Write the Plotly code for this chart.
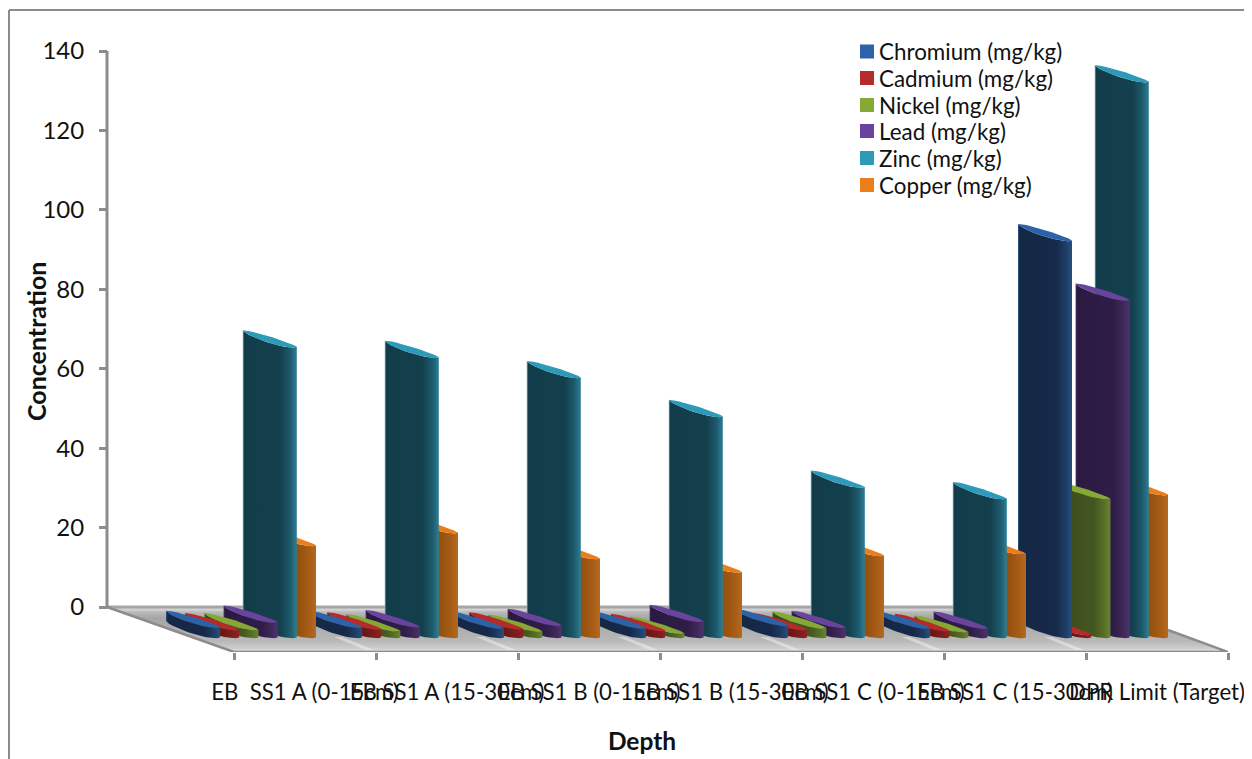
import plotly.graph_objects as go

categories = ["EB  SS1 A (0-15cm)", "EB SS1 A (15-30cm)", "EB SS1 B (0-15cm)", "EB SS1 B (15-30cm)",
              "EB SS1 C (0-15cm)", "EB SS1 C (15-30cm)", "DPR Limit (Target)"]
chromium = [2.6, 2.6, 2.4, 2.4, 3.1, 2.4, 100]
cadmium = [2.0, 2.2, 2.2, 1.8, 2.0, 1.8, 0.8]
nickel = [2.0, 1.7, 1.6, 1.1, 2.4, 1.4, 35]
lead = [3.9, 2.8, 3.1, 4.1, 2.6, 2.4, 85]
zinc = [73.2, 70.6, 65.5, 55.7, 37.9, 35.0, 140]
copper = [23.2, 26.4, 19.9, 16.5, 20.7, 21.1, 36]
y_ticks = [0, 20, 40, 60, 80, 100, 120, 140]

series = [
    ("Chromium (mg/kg)", chromium, "#2b62a8", ["#2f5a8e", "#152844", "#16294a", "#1e3c66", "#27507f"]),
    ("Cadmium (mg/kg)", cadmium, "#b52b2b", ["#7a2020", "#5c1616", "#6a1818", "#7e1d1d", "#8f2222"]),
    ("Nickel (mg/kg)", nickel, "#86a835", ["#5a7028", "#39491a", "#445720", "#566f26", "#678530"]),
    ("Lead (mg/kg)", lead, "#6a449c", ["#4a3468", "#2a1a40", "#2f1d48", "#3e2858", "#4c3270"]),
    ("Zinc (mg/kg)", zinc, "#2c9ab8", ["#6fa5b0", "#123c49", "#14404d", "#1d5a6c", "#2b7f96"]),
    ("Copper (mg/kg)", copper, "#ed7d1a", ["#8a4a12", "#7d420d", "#96520f", "#a85e17", "#b5691f"]),
]

# drawing geometry, in pixels of the page (the page body has an 8px margin)
PAGE_W, PAGE_H = 1252, 759
BODY = 8
L, R, T, B = 56, 1228, 33, 652
Y0_PX = 607.0
PX_PER_UNIT = 3.971
PX_PER_CAT = 142.0
CAT0_PX = 305.0
x_rng = [(L - CAT0_PX) / PX_PER_CAT, (R - CAT0_PX) / PX_PER_CAT]
y_rng = [(Y0_PX - B) / PX_PER_UNIT, (Y0_PX - T) / PX_PER_UNIT]
fx = lambda px: (px - CAT0_PX) / PX_PER_CAT
fy = lambda px: (Y0_PX - px) / PX_PER_UNIT
dx = lambda px: px / PX_PER_CAT
dy = lambda px: px / PX_PER_UNIT

BASE = fy(637.5)
BAR_W = dx(54)
STEP = dx(19.2)
FIRST_RIGHT = fx(220)
SLANT = dy(16.5)
N = 16

AXIS = "#8c8c8c"
fig = go.Figure()

# floor
floor_x = [fx(107), fx(234), fx(1228), fx(1101), fx(107)]
floor_y = [fy(607), fy(652), fy(652), fy(607), fy(607)]
fig.add_trace(go.Scatter(x=floor_x, y=floor_y, mode="lines", fill="toself", line=dict(width=0),
                         fillgradient=dict(type="vertical", colorscale=[
                             [0, "#dcdcdc"], [0.12, "#c8c8c8"], [0.25, "#b8b8b8"], [0.75, "#a6a6a6"],
                             [0.88, "#b8b8b8"], [0.94, "#d4d4d4"], [1, "#c8c8c8"]]),
                         showlegend=False, hoverinfo="skip"))
# light streaks on the floor
for i in range(7):
    sx = 340 + i * 142
    fig.add_trace(go.Scatter(x=[fx(sx - 6), fx(sx + 26), fx(sx + 34), fx(sx + 2), fx(sx - 6)],
                             y=[fy(637), fy(650), fy(650), fy(637), fy(637)],
                             mode="lines", fill="toself", line=dict(width=0),
                             fillcolor="rgba(255,255,255,0.4)", showlegend=False, hoverinfo="skip"))
# floor edges and the value axis
fig.add_trace(go.Scatter(x=[fx(107), fx(1101)], y=[fy(607), fy(607)], mode="lines",
                         line=dict(color="#a6a6a6", width=3), showlegend=False, hoverinfo="skip"))
fig.add_trace(go.Scatter(x=[fx(107), fx(234), fx(1228), fx(1168)], y=[fy(607), fy(652), fy(652), fy(630)],
                         mode="lines", line=dict(color=AXIS, width=2.5), showlegend=False, hoverinfo="skip",
                         cliponaxis=False))
fig.add_trace(go.Scatter(x=[fx(107), fx(107)], y=[0, max(y_ticks)], mode="lines",
                         line=dict(color=AXIS, width=3), showlegend=False, hoverinfo="skip"))


def curve(t, a, b, bow):
    return a + (b - a) * t + bow * (4 * t * (1 - t)) ** 0.6


ts = [k / N for k in range(N + 1)]
for i in range(len(categories) - 1, -1, -1):
    for k in range(len(series) - 1, -1, -1):
        name, vals, top_c, body = series[k]
        xr = i + FIRST_RIGHT + k * STEP
        xl = xr - BAR_W
        yr = BASE + vals[i]
        xs = [xl + (xr - xl) * t for t in ts]
        upper = [curve(t, yr + SLANT, yr, dy(2.0)) for t in ts]
        lower = [curve(t, yr + SLANT, yr, -dy(4.5)) for t in ts]
        bottom = [curve(t, BASE + SLANT, BASE, -dy(4.5)) for t in ts]
        fig.add_trace(go.Scatter(
            x=xs + xs[::-1] + [xs[0]], y=lower + bottom[::-1] + [lower[0]],
            mode="lines", fill="toself", line=dict(width=0),
            fillgradient=dict(type="horizontal", colorscale=[
                [0, body[0]], [0.03, body[1]], [0.7, body[2]], [0.88, body[3]], [1, body[4]]]),
            showlegend=False, hovertemplate=f"{categories[i]}<br>{name}: {vals[i]}<extra></extra>"))
        fig.add_trace(go.Scatter(
            x=xs + xs[::-1] + [xs[0]], y=upper + lower[::-1] + [upper[0]],
            mode="lines", fill="toself", line=dict(width=0), fillcolor=top_c,
            showlegend=False, hoverinfo="skip"))

FONT = "Lato"
px_x = lambda px: (px - L) / (R - L)
px_y = lambda px: (B - px) / (B - T)
shapes = [
    dict(type="line", xref="paper", yref="paper", x0=px_x(9), x1=px_x(1252), y0=px_y(10), y1=px_y(10),
         line=dict(color="#8c8c8c", width=2)),
    dict(type="line", xref="paper", yref="paper", x0=px_x(9), x1=px_x(9), y0=px_y(10), y1=px_y(759),
         line=dict(color="#8c8c8c", width=2)),
    dict(type="line", xref="paper", yref="paper", x0=px_x(1251), x1=px_x(1251), y0=px_y(10), y1=px_y(759),
         line=dict(color="#e8e8e8", width=1)),
]
annotations = []
legend_rows = [51.5, 78, 105, 131, 158, 185]
for (name, vals, top_c, body), ry in zip(series, legend_rows):
    shapes.append(dict(type="rect", xref="paper", yref="paper", x0=px_x(860), x1=px_x(874),
                       y0=px_y(ry - 7), y1=px_y(ry + 7), fillcolor=top_c, line=dict(width=0)))
    annotations.append(dict(xref="paper", yref="paper", x=px_x(877), y=px_y(ry), text=name, showarrow=False,
                            xanchor="left", yanchor="middle", font=dict(size=22.4, family=FONT, color="#111111")))
annotations.append(dict(xref="paper", yref="paper", x=px_x(36), y=px_y(342), text="<b>Concentration</b>",
                        textangle=-90, showarrow=False, xanchor="center", yanchor="middle",
                        font=dict(size=25, family=FONT, color="#111111")))

fig.update_layout(
    width=PAGE_W - BODY, height=PAGE_H - BODY, autosize=False,
    margin=dict(l=L - BODY, r=PAGE_W - R, t=T - BODY, b=PAGE_H - B, pad=0, autoexpand=False),
    paper_bgcolor="white", plot_bgcolor="rgba(0,0,0,0)",
    font=dict(family=FONT, color="#111111"),
    shapes=shapes, annotations=annotations,
    showlegend=False,
    xaxis=dict(range=x_rng, tickmode="array", tickvals=list(range(len(categories))), ticktext=categories,
               ticks="", tickangle=0, showgrid=False, zeroline=False, showline=False, automargin=False,
               ticklabelstandoff=25, tickfont=dict(size=22.2, family=FONT),
               minor=dict(tickmode="array", tickvals=[i - 0.5 for i in range(len(categories) + 1)],
                          ticks="outside", ticklen=7, tickwidth=2.5, tickcolor=AXIS, showgrid=False),
               title=dict(text="<b>Depth</b>", font=dict(size=24.5, family=FONT), standoff=28)),
    yaxis=dict(range=y_rng, tickmode="array", tickvals=y_ticks, ticks="outside", ticklen=8, tickwidth=2.5,
               tickcolor=AXIS, showgrid=False, zeroline=False, showline=False, automargin=False,
               anchor="free", position=px_x(107), ticklabelstandoff=10,
               tickfont=dict(size=24, family=FONT)),
)
fig.write_html("out.html")
